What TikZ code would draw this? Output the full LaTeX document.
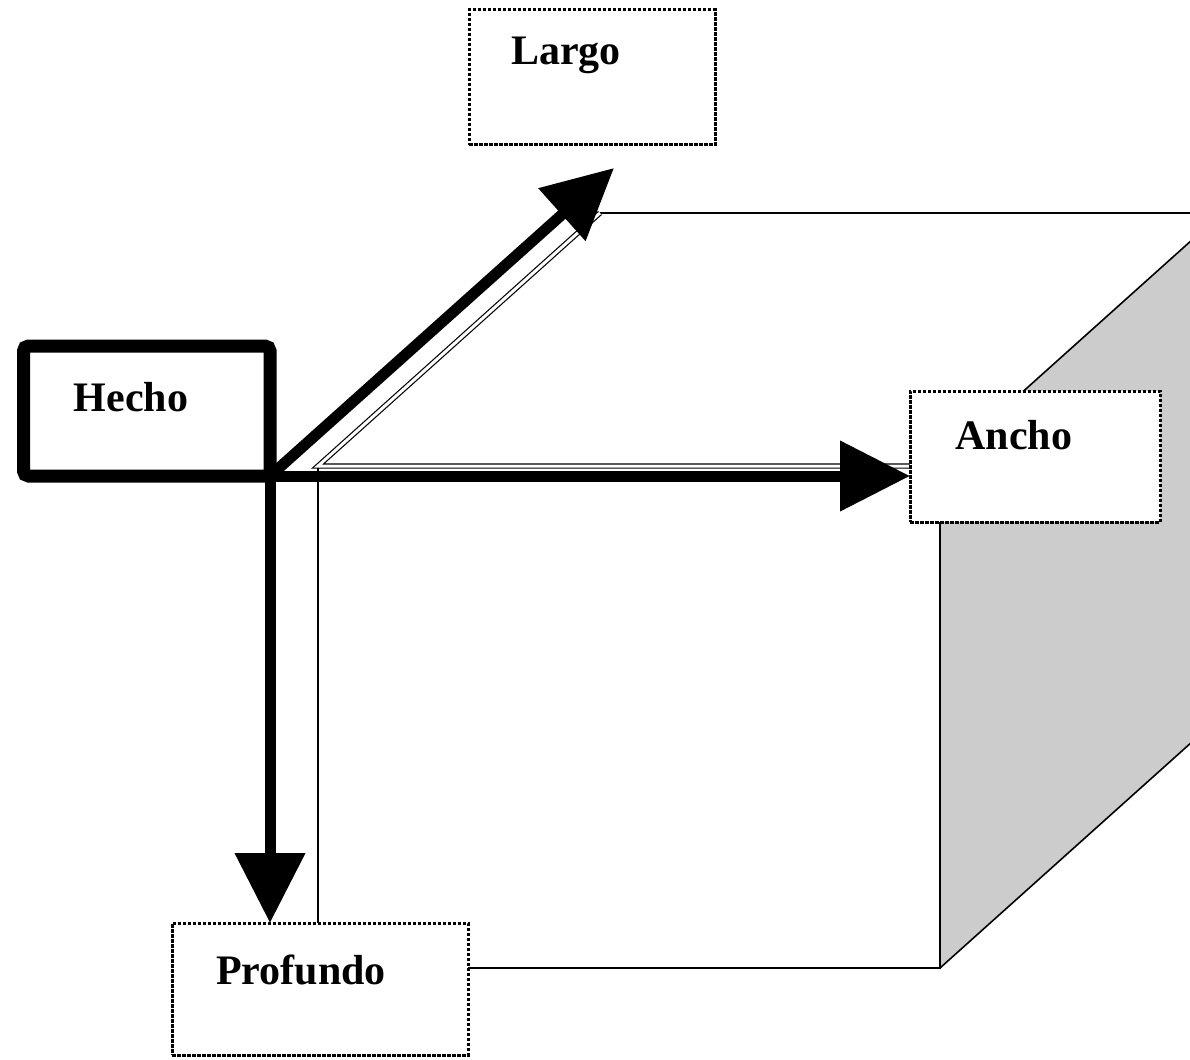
\documentclass[tikz,border=0pt]{standalone}
\usepackage{fontspec}
\setmainfont{Liberation Serif}
\usetikzlibrary{arrows.meta}
\usetikzlibrary{positioning}
\definecolor{sideshade}{HTML}{CCCCCC}

\begin{document}
\begin{tikzpicture}[
  x=1pt, y=-1pt,
  fact/.style={rectangle, draw=black, fill=white, line width=13pt,
    rounded corners=5pt, minimum width=246.5pt, minimum height=130pt,
    inner sep=0pt, outer sep=0pt},
  dimbox/.style={rectangle, draw=black, fill=white, line width=3pt,
    dash pattern=on 3.5pt off 1.5pt, inner sep=0pt, outer sep=0pt},
  lbl/.style={font=\fontsize{42}{48}\selectfont\bfseries, inner sep=0pt},
  arrow/.style={-{Triangle[length=70pt, width=68pt]}, line width=11pt, draw=black},
  edge/.style={draw=black, line width=1.6pt},
  dbl/.style={draw=black, line width=1.2pt, double=white, double distance=3pt},
]
\clip (0,0) rectangle (1190,1059);
\fill[white] (0,0) rectangle (1190,1059);

% === Cube ===
\coordinate (ftl) at (318,466);
\coordinate (ftr) at (940,466);
\coordinate (fbr) at (940,968);
\coordinate (fbl) at (318,968);
\coordinate (btl) at (600,213);
\coordinate (btr) at (1222,213);
\coordinate (bbr) at (1222,715);

\fill[sideshade] (ftr) -- (btr) -- (bbr) -- (fbr) -- cycle;
\draw[edge] (ftl) -- (fbl) -- (fbr) -- (ftr);
\draw[edge] (fbr) -- (bbr);
\draw[edge] (ftr) -- (btr) -- (btl);
\draw[dbl] (btl) -- (ftl) -- (ftr);

% === Boxes ===
\node[fact] (hecho) at (146.75,411) {};
\node[lbl] (hecho_txt) at (131,397) {Hecho};

\node[dimbox, minimum width=246pt, minimum height=135pt] (largo) at (592,77.5) {};
\node[lbl] (largo_txt) at (566,55) {Largo};

\node[dimbox, minimum width=250pt, minimum height=131pt] (ancho) at (1035,456.5) {};
\node[lbl] (ancho_txt) at (1014,435) {Ancho};

\node[dimbox, minimum width=296pt, minimum height=132pt] (profundo) at (320,989) {};
\node[lbl] (profundo_txt) at (301,970) {Profundo};

% === Arrows ===
\coordinate (largo_tip) at (614,168);
\draw[arrow] (hecho.south east) -- (largo_tip);
\draw[arrow] (hecho.south east) -- (hecho.south east -| ancho.west);
\draw[arrow] (hecho.south east) -- (hecho.south east |- profundo.north);

\end{tikzpicture}
\end{document}
